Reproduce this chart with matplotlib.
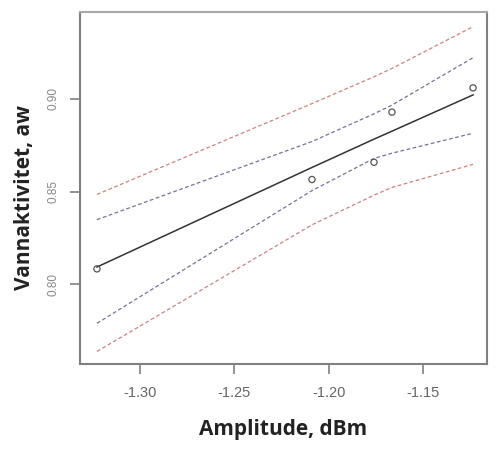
import numpy as np
from matplotlib import pyplot as plt

# measured points (amplitude vs water activity)
amplitude = [-1.3228, -1.2088, -1.1759, -1.1664, -1.1234]
aw = [0.8082, 0.8565, 0.8658, 0.8929, 0.9060]

# fitted line and bands, read at the same x positions
fit = [0.8092, 0.8630, 0.8783, 0.8826, 0.9022]
conf_upper = [0.8348, 0.8770, 0.8920, 0.8967, 0.9223]
conf_lower = [0.7788, 0.8505, 0.8679, 0.8707, 0.8815]
pred_upper = [0.8484, 0.8975, 0.9120, 0.9165, 0.9391]
pred_lower = [0.7636, 0.8320, 0.8480, 0.8522, 0.8647]

xticks = [-1.30, -1.25, -1.20, -1.15]
yticks = [0.80, 0.85, 0.90]

fig = plt.figure(figsize=(4.96, 4.51), dpi=100)
ax = fig.add_axes([80 / 496, 87 / 451, 407 / 496, 352 / 451])

ax.plot(amplitude, pred_upper, color='#d08080', lw=0.9, dashes=(3, 2))
ax.plot(amplitude, pred_lower, color='#d08080', lw=0.9, dashes=(3, 2))
ax.plot(amplitude, conf_upper, color='#737396', lw=0.9, dashes=(3, 2))
ax.plot(amplitude, conf_lower, color='#737396', lw=0.9, dashes=(3, 2))
ax.plot(amplitude, fit, color='#333333', lw=1.1)
ax.scatter(amplitude, aw, s=20, facecolors='none', edgecolors='#555555', linewidths=0.9, zorder=3)

ax.set_xlim(-1.3318, -1.116)
ax.set_ylim(0.7568, 0.947)
ax.set_xticks(xticks)
ax.set_xticklabels(['%.2f' % t for t in xticks])
ax.set_yticks(yticks)
ax.set_yticklabels(['%.2f' % t for t in yticks], rotation=90, va='center')

for s in ax.spines.values():
    s.set_color('#808080')
    s.set_linewidth(1.5)
ax.spines['top'].set_color('#a8a8a8')
ax.tick_params(axis='both', direction='out', length=7, width=1.2, color='#808080')
ax.tick_params(axis='x', labelsize=10.5, labelcolor='#666666', pad=9)
ax.tick_params(axis='y', labelsize=8.5, labelcolor='#888888', pad=8)
for lab in ax.get_xticklabels() + ax.get_yticklabels():
    lab.set_family('Liberation Sans')

fig.text(283 / 496, 1 - 430 / 451, 'Amplitude, dBm', ha='center', va='center',
         fontsize=15, fontweight='bold', family='Open Sans', color='#222222')
fig.text(25 / 496, 1 - 197 / 451, 'Vannaktivitet, aw', ha='center', va='center',
         rotation=90, fontsize=15, fontweight='bold', family='Open Sans', color='#222222')

fig.savefig('out.png', dpi=100)
